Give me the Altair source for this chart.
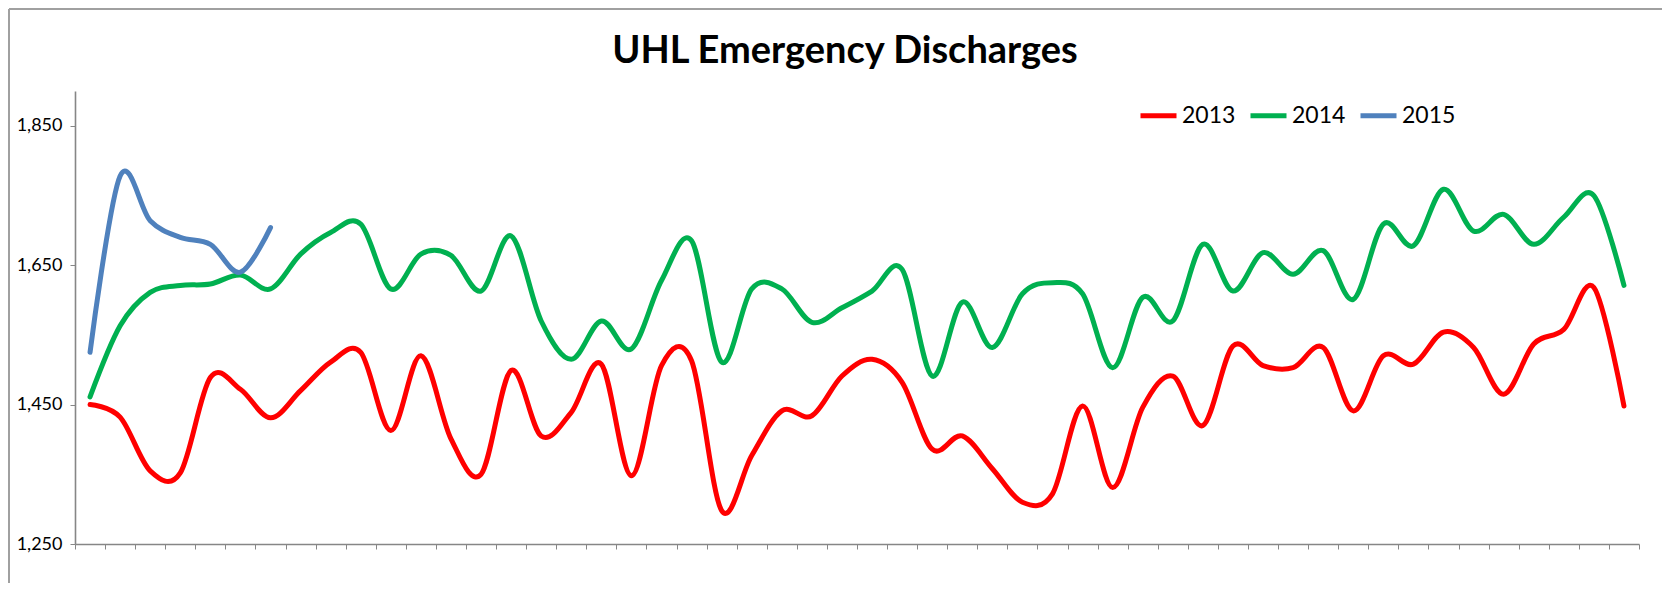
import altair as alt
import pandas as pd

weeks = list(range(1, 53))
values_2013 = [1450, 1432, 1355, 1352, 1489, 1472, 1431, 1470, 1511, 1525,
               1413, 1520, 1401, 1350, 1499, 1405, 1439, 1508, 1348, 1506,
               1513, 1298, 1377, 1441, 1434, 1491, 1515, 1482, 1386, 1405,
               1358, 1310, 1322, 1448, 1331, 1446, 1491, 1420, 1534, 1506,
               1503, 1532, 1441, 1520, 1508, 1554, 1532, 1465, 1537, 1558,
               1618, 1448]
values_2014 = [1461, 1563, 1611, 1621, 1623, 1636, 1616, 1666, 1697, 1709,
               1616, 1666, 1664, 1613, 1692, 1570, 1515, 1570, 1530, 1628,
               1685, 1511, 1616, 1616, 1568, 1589, 1613, 1644, 1491, 1597,
               1532, 1609, 1625, 1609, 1503, 1604, 1570, 1680, 1613, 1668,
               1637, 1671, 1601, 1709, 1678, 1759, 1699, 1723, 1680, 1719,
               1750, 1621]
values_2015 = [1525, 1778, 1714, 1690, 1680, 1640, 1704]
years = ["2013", "2014", "2015"]
colors = ["#FF0000", "#00B050", "#4F81BD"]
y_ticks = [1250, 1450, 1650, 1850]

rows = []
for yr, vals in zip(years, [values_2013, values_2014, values_2015]):
    for w, v in zip(weeks, vals):
        rows.append({"week": w, "year": yr, "discharges": v})
df = pd.DataFrame(rows)

W, H = 1564, 453
FONT = "Lato"

lines = alt.Chart(df).mark_line(
    strokeWidth=5, interpolate="cardinal", strokeCap="round", strokeJoin="round"
).encode(
    x=alt.X("week:Q", scale=alt.Scale(domain=[0.5, 52.5], nice=False, zero=False),
            axis=alt.Axis(values=[w - 0.5 for w in weeks] + [52.5], labels=False, title=None,
                          grid=False, ticks=True, tickSize=5, tickColor="#868686",
                          tickWidth=1, domainColor="#868686", domainWidth=1.6)),
    y=alt.Y("discharges:Q", scale=alt.Scale(domain=[1250, 1900], nice=False, zero=False),
            axis=alt.Axis(values=y_ticks, format=",d", title=None, grid=False,
                          tickSize=5, tickColor="#868686", tickWidth=1,
                          domainColor="#868686", domainWidth=1.6,
                          labelFont=FONT, labelFontSize=18, labelColor="#000000",
                          labelPadding=8)),
    color=alt.Color("year:N", scale=alt.Scale(domain=years, range=colors),
                    legend=alt.Legend(orient="none", legendX=1063, legendY=4,
                                      direction="horizontal", title=None,
                                      symbolType="stroke", symbolSize=1296,
                                      symbolStrokeWidth=5, labelFont=FONT,
                                      labelFontSize=23, labelColor="#000000",
                                      labelOffset=3, columnPadding=4)),
    order="week:Q",
)

frame_top = alt.Chart(df).mark_rule(color="#a0a0a0", strokeWidth=2).encode(
    x=alt.value(-66), x2=alt.value(W + 30), y=alt.value(-82)
)
frame_left = alt.Chart(df).mark_rule(color="#a0a0a0", strokeWidth=2).encode(
    x=alt.value(-66), y=alt.value(-82), y2=alt.value(H + 40)
)

chart = alt.layer(frame_top, frame_left, lines).properties(
    width=W, height=H,
    title=alt.TitleParams("UHL Emergency Discharges", font=FONT, fontSize=38,
                          fontWeight="bold", color="#000000", anchor="middle",
                          frame="group", baseline="alphabetic", offset=0, dy=93, dx=-12),
    autosize=alt.AutoSizeParams(type="none"),
    padding={"left": 67, "top": 83, "right": 23, "bottom": 39},
).configure(background="white", view=alt.ViewConfig(stroke=None))

chart.save("out.html", embed_options={"renderer": "svg", "actions": False})
